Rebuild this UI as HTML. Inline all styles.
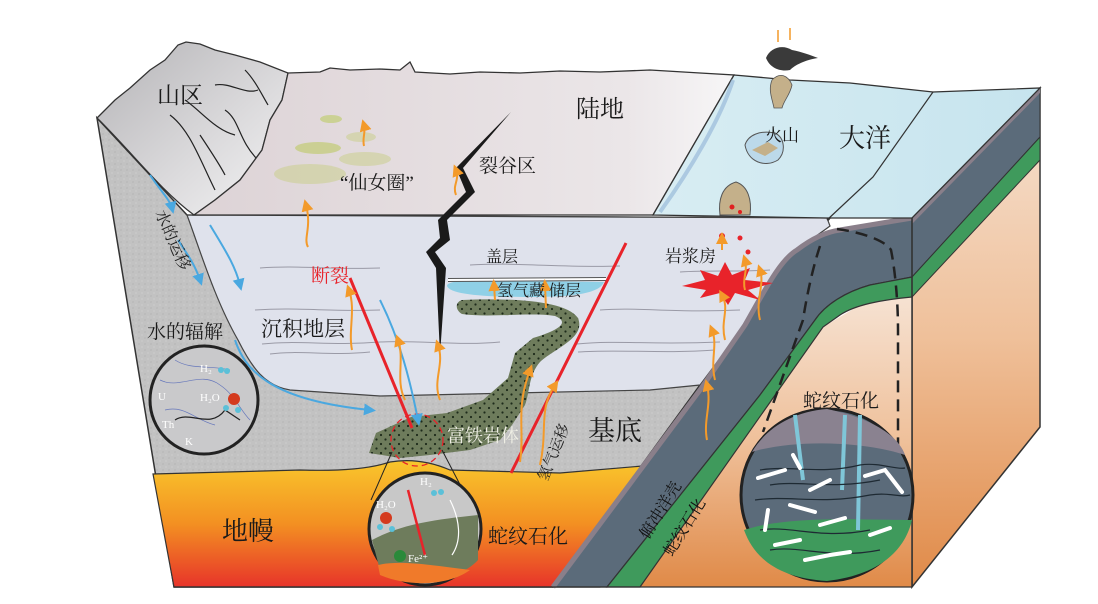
<!DOCTYPE html>
<html><head><meta charset="utf-8"><style>
html,body{margin:0;padding:0;background:#fff;width:1098px;height:604px;overflow:hidden}
svg{display:block}
text{font-family:"Liberation Serif","Noto Serif CJK SC",serif;}
</style></head><body>
<svg width="1098" height="604" viewBox="0 0 1098 604" xmlns="http://www.w3.org/2000/svg">
<defs>
<linearGradient id="peach" x1="0" y1="0" x2="0" y2="1">
<stop offset="0" stop-color="#f6e2d2"/><stop offset="0.5" stop-color="#efc09a"/><stop offset="1" stop-color="#e08a48"/></linearGradient>
<linearGradient id="mantle" x1="0" y1="0" x2="0" y2="1">
<stop offset="0" stop-color="#f9c62c"/><stop offset="0.5" stop-color="#f39022"/><stop offset="1" stop-color="#e7342a"/></linearGradient>
<linearGradient id="land" x1="0" y1="0" x2="1" y2="0">
<stop offset="0" stop-color="#ddd3d6"/><stop offset="0.8" stop-color="#ebe6e8"/><stop offset="1" stop-color="#f7f6f7"/></linearGradient>
<linearGradient id="mount" x1="0" y1="0" x2="1" y2="1">
<stop offset="0" stop-color="#b4b3b6"/><stop offset="0.6" stop-color="#dcdbdd"/><stop offset="1" stop-color="#f4f4f5"/></linearGradient>
<linearGradient id="ocean" x1="0" y1="0" x2="1" y2="0">
<stop offset="0" stop-color="#d8edf3"/><stop offset="1" stop-color="#c6e4ee"/></linearGradient>
<pattern id="speck" width="6" height="6" patternUnits="userSpaceOnUse">
<rect width="6" height="6" fill="#c2c2c2"/><circle cx="1" cy="2" r="0.6" fill="#acacac"/><circle cx="4" cy="5" r="0.6" fill="#d4d4d4"/></pattern>
<pattern id="dots" width="9" height="9" patternUnits="userSpaceOnUse">
<rect width="9" height="9" fill="#6e7c5c"/><circle cx="3" cy="3" r="1.1" fill="#1d2a1a"/><circle cx="7.5" cy="7.5" r="1.1" fill="#1d2a1a"/></pattern>
<marker id="oa" markerWidth="6" markerHeight="6" refX="3" refY="3" orient="auto"><path d="M0,0 L6,3 L0,6 Z" fill="#f39a2a"/></marker>
<marker id="ba" markerWidth="6" markerHeight="6" refX="3" refY="3" orient="auto"><path d="M0,0 L6,3 L0,6 Z" fill="#4aa8e0"/></marker>
</defs>

<polygon points="912,218 1040,88 1040,427 912,587" fill="url(#peach)" stroke="#333" stroke-width="1.5"/>
<polygon points="912,218 1040,88 1040,137 912,277" fill="#5b6b7a" stroke="#333" stroke-width="1"/>
<polygon points="912,218 1040,88 1040,93 912,224" fill="#8a7f8a"/>
<polygon points="912,277 1040,137 1040,160 912,297" fill="#3f9a5c" stroke="#333" stroke-width="1"/>
<polygon points="640,587 912,587 912,297 860,305 823,327" fill="url(#peach)"/>

<polygon points="97,118 187,215 830,218 740,330 553,587 174,587" fill="url(#speck)" stroke="#333" stroke-width="1.5"/>
<path d="M153,474 L300,470 Q360,472 390,462 Q420,457 450,470 L560,473 L690,462 L600,587 L174,587 Z" fill="url(#mantle)" stroke="#333" stroke-width="1.2"/>
<path d="M187,215 C200,250 215,300 238,340 C252,368 265,386 290,390 L380,396 L650,390 L700,385 L745,325 C765,290 780,260 797,250 C810,240 822,232 830,226 L827,218 Z" fill="#dfe2ec" stroke="#444" stroke-width="1.2"/>
<g stroke="#9a9aa6" stroke-width="1" fill="none">
<path d="M260,268 C300,265 330,270 380,268"/><path d="M470,265 C520,262 560,268 620,266"/><path d="M680,272 C710,270 740,272 770,270"/>
<path d="M255,310 C300,307 330,312 380,310"/><path d="M600,310 C640,307 670,313 740,310"/>
<path d="M262,344 C300,340 330,346 380,342 C420,340 460,346 500,342"/><path d="M578,352 C620,349 660,354 715,350"/>
<path d="M270,354 C300,350 330,356 370,352"/><path d="M577,344 C620,340 650,345 720,342"/>
</g>

<path d="M553,587 L700,390 L745,325 C765,290 780,260 797,250 C810,240 825,232 840,230 L912,218 L912,277 L870,285 C845,292 825,305 815,320 L760,395 L607,587 Z" fill="#5b6b7a" stroke="#333" stroke-width="1.2"/>
<path d="M553,587 L700,390 L745,325 C765,290 780,260 797,250 C810,240 825,232 840,230 L912,218" fill="none" stroke="#8a7f8a" stroke-width="5"/>
<path d="M607,587 L760,395 L815,320 C825,305 845,292 870,285 L912,277 L912,297 C880,300 855,305 840,315 L823,327 L640,587 Z" fill="#3f9a5c" stroke="#333" stroke-width="1.2"/>
<line x1="912" y1="218" x2="912" y2="587" stroke="#333" stroke-width="1.5"/>
<line x1="174" y1="587" x2="912" y2="587" stroke="#333" stroke-width="1.2"/>
<path d="M837,229 C860,232 885,240 891,250 C895,270 898,300 898,330 L898,455" fill="none" stroke="#222" stroke-width="2.5" stroke-dasharray="12,7"/>
<path d="M820,246 C812,270 806,300 803,320 L763,432" fill="none" stroke="#222" stroke-width="2.5" stroke-dasharray="12,7"/>

<path d="M97,118 L115,100 L130,88 L150,70 L165,60 L178,45 L186,42 L200,44 L215,50 L235,55 L260,62 L288,73 L282,100 L270,120 L262,150 L240,180 L215,200 L194,215 C160,190 130,150 97,118 Z" fill="url(#mount)" stroke="#333" stroke-width="1.3"/>
<g stroke="#222" stroke-width="1.2" fill="none">
<path d="M215,85 C230,82 245,95 258,90"/><path d="M225,110 C240,120 238,140 258,160"/><path d="M170,115 C190,130 200,160 215,190"/><path d="M185,100 C200,110 215,130 235,135"/><path d="M245,70 C255,80 262,95 268,105"/><path d="M200,135 C210,150 220,165 225,175"/>
</g>
<path d="M288,73 L320,72 L330,68 L350,70 L380,69 L400,70 L410,62 L415,72 L450,74 L480,72 L520,73 L560,71 L600,72 L650,70 L700,73 L734,75 L653,215 L194,215 L215,200 L240,180 L262,150 L270,120 L282,100 Z" fill="url(#land)" stroke="#333" stroke-width="1.3"/>
<polygon points="734,75 790,80 850,83 933,92 1040,88 912,218 827,218 653,215" fill="url(#ocean)" stroke="#333" stroke-width="1.3"/>
<path d="M933,92 L873,177 L827,220" fill="none" stroke="#333" stroke-width="1.2"/>
<path d="M733,80 C720,120 690,170 660,212" stroke="#8fb3d6" stroke-width="4" fill="none" opacity="0.6"/>
<path d="M766,58 C770,48 782,44 792,50 C802,52 810,55 818,58 C805,60 795,65 790,70 C780,72 770,68 766,58Z" fill="#3a3a3a"/>
<path d="M778,42 L778,30 M790,40 L790,28" stroke="#f39a2a" stroke-width="1.5"/>
<path d="M772,80 C780,72 788,75 792,85 C790,95 784,100 782,108 L774,108 C772,98 768,90 772,80Z" fill="#c4b08a" stroke="#555" stroke-width="0.8"/>
<path d="M745,145 C748,135 760,130 775,133 C785,138 786,152 778,160 C765,168 748,162 745,145Z" fill="#bcd9ea" stroke="#555"/>
<path d="M752,150 L768,142 L778,148 L765,156 Z" fill="#c4b08a"/>
<path d="M720,215 C718,200 722,186 736,182 C748,186 752,200 750,215 Z" fill="#c4b08a" stroke="#555"/>
<circle cx="732" cy="207" r="2.5" fill="#e02020"/><circle cx="740" cy="212" r="2" fill="#e02020"/>
<g fill="#c9cf8c" opacity="0.9">
<ellipse cx="331" cy="119" rx="11" ry="4"/><ellipse cx="318" cy="148" rx="23" ry="6"/><ellipse cx="365" cy="159" rx="26" ry="7" opacity="0.6"/><ellipse cx="310" cy="174" rx="36" ry="10" opacity="0.6"/><ellipse cx="361" cy="137" rx="15" ry="5" opacity="0.6"/>
</g>
<path d="M511,112 L463,168 L475,192 L447,220 L450,240 L435,252 L446,268 L440,355 L436,268 L426,252 L440,238 L438,220 L466,192 L456,168 Z" fill="#1a1a1a"/>
<path d="M447,286 C447,280 470,280 520,281 L604,282 C600,292 580,297 530,297 C480,297 450,294 447,286Z" fill="#8fd0e6"/>
<path d="M448,280 L606,279" stroke="#555" stroke-width="4"/><path d="M448,280 L606,279" stroke="#fff" stroke-width="2"/>
<path d="M369,453 L376,433 L411,417 L447,413 L483,400 L508,378 L515,353 L533,338 C560,330 570,322 555,316 C530,312 490,318 462,314 C455,310 455,302 462,300 C510,298 565,300 578,318 C586,338 555,348 540,362 C528,376 530,392 525,405 L512,425 L500,440 L470,450 L430,455 L400,458 Z" fill="url(#dots)"/>
<line x1="350" y1="278" x2="412" y2="428" stroke="#e8232a" stroke-width="3"/>
<line x1="626" y1="243" x2="511" y2="473" stroke="#e8232a" stroke-width="3"/>
<circle cx="417" cy="440" r="26" fill="none" stroke="#e8232a" stroke-width="1.3" stroke-dasharray="6,4"/>
<line x1="392" y1="452" x2="371" y2="500" stroke="#222" stroke-width="1"/><line x1="442" y1="450" x2="468" y2="500" stroke="#222" stroke-width="1"/>
<path d="M682,286 L705,280 L700,270 L718,276 L725,262 L732,275 L750,268 L745,280 L773,283 L748,290 L760,300 L735,293 L728,305 L720,293 L700,298 L706,290 Z" fill="#e8232a"/>
<g fill="#e8232a"><circle cx="722" cy="236" r="3"/><circle cx="740" cy="238" r="2.5"/><circle cx="748" cy="252" r="2.5"/></g>

<g stroke="#4aa8e0" stroke-width="2" fill="none" marker-end="url(#ba)">
<path d="M150,175 C160,190 170,200 172,208"/><path d="M178,240 C188,255 195,265 200,280"/><path d="M210,225 C225,250 235,265 240,285"/>
<path d="M235,340 C245,370 270,400 370,410"/><path d="M380,300 C400,340 410,380 418,420"/>
</g>
<g stroke="#f39a2a" stroke-width="2" fill="none" marker-end="url(#oa)">
<path d="M308,247 C303,238 312,228 306,205"/><path d="M456,195 C452,185 460,180 456,170"/><path d="M364,146 C362,138 366,132 364,125"/>
<path d="M352,350 C348,330 356,310 349,290"/><path d="M405,400 C395,380 405,360 398,340"/><path d="M440,400 C432,380 445,365 438,345"/>
<path d="M495,300 L494,285"/><path d="M546,308 L545,285"/>
<path d="M520,462 C525,430 515,410 530,370"/><path d="M540,465 C548,430 538,410 555,385"/>
<path d="M715,380 C710,360 718,345 712,330"/><path d="M725,340 C720,320 730,310 722,295"/><path d="M760,320 C755,300 765,285 760,270"/>
<path d="M707,440 C703,420 712,405 707,385"/><path d="M745,290 C742,280 748,270 745,260"/><path d="M722,250 L722,238"/>
</g>

<circle cx="204" cy="400" r="54" fill="#c9c9cb" stroke="#222" stroke-width="3"/>
<g stroke="#6677bb" stroke-width="0.7" fill="none"><path d="M160,380 C180,390 200,370 220,385 C235,395 240,410 250,420"/><path d="M165,410 C185,405 195,420 215,425"/><path d="M175,360 C190,370 210,365 230,370"/></g>
<path d="M175,420 C190,410 210,430 225,410 L240,420" stroke="#222" stroke-width="1.2" fill="none"/>
<circle cx="234" cy="399" r="6" fill="#d43a1e"/><circle cx="226" cy="408" r="3" fill="#5bc0d8"/><circle cx="238" cy="410" r="3" fill="#5bc0d8"/>
<circle cx="221" cy="370" r="3" fill="#5bc0d8"/><circle cx="227" cy="371" r="3" fill="#5bc0d8"/>
<g fill="#fff" font-size="11"><text x="200" y="372">H₂</text><text x="200" y="401">H₂O</text><text x="158" y="400">U</text><text x="162" y="428">Th</text><text x="185" y="445">K</text></g>
<circle cx="425" cy="529" r="56" fill="#c8c8c8" stroke="#222" stroke-width="3"/>
<path d="M372,540 C400,525 430,520 478,515 L478,560 C460,580 420,585 380,570 Z" fill="#6e7c5c"/>
<path d="M378,565 C400,560 430,565 470,570 C450,585 410,588 380,575 Z" fill="#f07a2a"/>
<line x1="408" y1="490" x2="425" y2="555" stroke="#e8232a" stroke-width="2.5"/>
<circle cx="386" cy="518" r="6" fill="#d43a1e"/><circle cx="380" cy="527" r="3" fill="#5bc0d8"/><circle cx="392" cy="529" r="3" fill="#5bc0d8"/>
<circle cx="400" cy="556" r="6" fill="#2a8a3a"/>
<circle cx="434" cy="493" r="3" fill="#5bc0d8"/><circle cx="441" cy="492" r="3" fill="#5bc0d8"/>
<g fill="#fff" font-size="11"><text x="376" y="508">H₂O</text><text x="420" y="485">H₂</text><text x="408" y="562">Fe²⁺</text></g>
<path d="M452,555 C462,540 460,520 450,500" stroke="#fff" stroke-width="1.2" fill="none"/>
<circle cx="827" cy="495" r="86" fill="#5b6b7a" stroke="#222" stroke-width="3"/>
<path d="M752,452 C790,440 860,440 905,455 C900,440 880,420 827,409 C790,412 765,430 752,452Z" fill="#8a8290"/>
<path d="M744,530 C790,515 860,520 912,520 C905,550 880,575 827,581 C780,578 755,560 744,530Z" fill="#3f9a5c"/>
<g stroke="#7fc6d8" stroke-width="4" fill="none"><path d="M795,415 L803,480"/><path d="M845,415 L842,490"/><path d="M860,415 L858,530"/></g>
<g stroke="#1e2a33" stroke-width="1.2" fill="none">
<path d="M760,470 C790,465 820,475 860,465 C880,462 895,470 905,468"/><path d="M755,500 C790,495 820,505 870,495 C890,492 900,498 910,495"/><path d="M760,530 C790,525 820,540 870,530"/><path d="M770,550 C800,545 830,560 880,550"/><path d="M770,485 C800,480 830,490 880,480"/>
</g>
<g stroke="#fff" stroke-width="4" stroke-linecap="round" fill="none">
<path d="M758,478 L785,470"/><path d="M793,455 L800,468"/><path d="M810,490 L830,480"/><path d="M790,505 L815,512"/><path d="M865,476 L885,470 L902,492"/><path d="M768,510 L765,530"/><path d="M820,525 L845,518"/><path d="M775,545 L800,540"/><path d="M805,560 L830,555 L850,552"/><path d="M870,535 L890,528"/>
</g>

<g fill="#1a1a1a">
<text x="157" y="103" font-size="23">山区</text>
<text x="576" y="117" font-size="24">陆地</text>
<text x="479" y="172" font-size="19">裂谷区</text>
<text x="340" y="189" font-size="19">“仙女圈”</text>
<text x="486" y="262" font-size="16">盖层</text>
<text x="497" y="296" font-size="16">氢气藏 储层</text>
<text x="147" y="338" font-size="19">水的辐解</text>
<text x="261" y="336" font-size="21">沉积地层</text>
<text x="665" y="262" font-size="17">岩浆房</text>
<text x="765" y="141" font-size="17">火山</text>
<text x="839" y="147" font-size="26">大洋</text>
<text x="588" y="440" font-size="27">基底</text>
<text x="222" y="540" font-size="26">地幔</text>
<text x="488" y="543" font-size="20">蛇纹石化</text>
<text x="803" y="407" font-size="19">蛇纹石化</text>
</g>
<text x="311" y="282" font-size="19" fill="#e8232a">断裂</text>
<text x="447" y="442" font-size="18" fill="#eeeee4">富铁岩体</text>
<text transform="translate(155,213) rotate(66)" font-size="16" fill="#222">水的运移</text>
<text transform="translate(547,482) rotate(-68)" font-size="15" fill="#222">氢气运移</text>
<text transform="translate(648,540) rotate(-58)" font-size="16" fill="#111">俯冲洋壳</text>
<text transform="translate(672,557) rotate(-58)" font-size="16" fill="#111">蛇纹石化</text>
</svg>
</body></html>
